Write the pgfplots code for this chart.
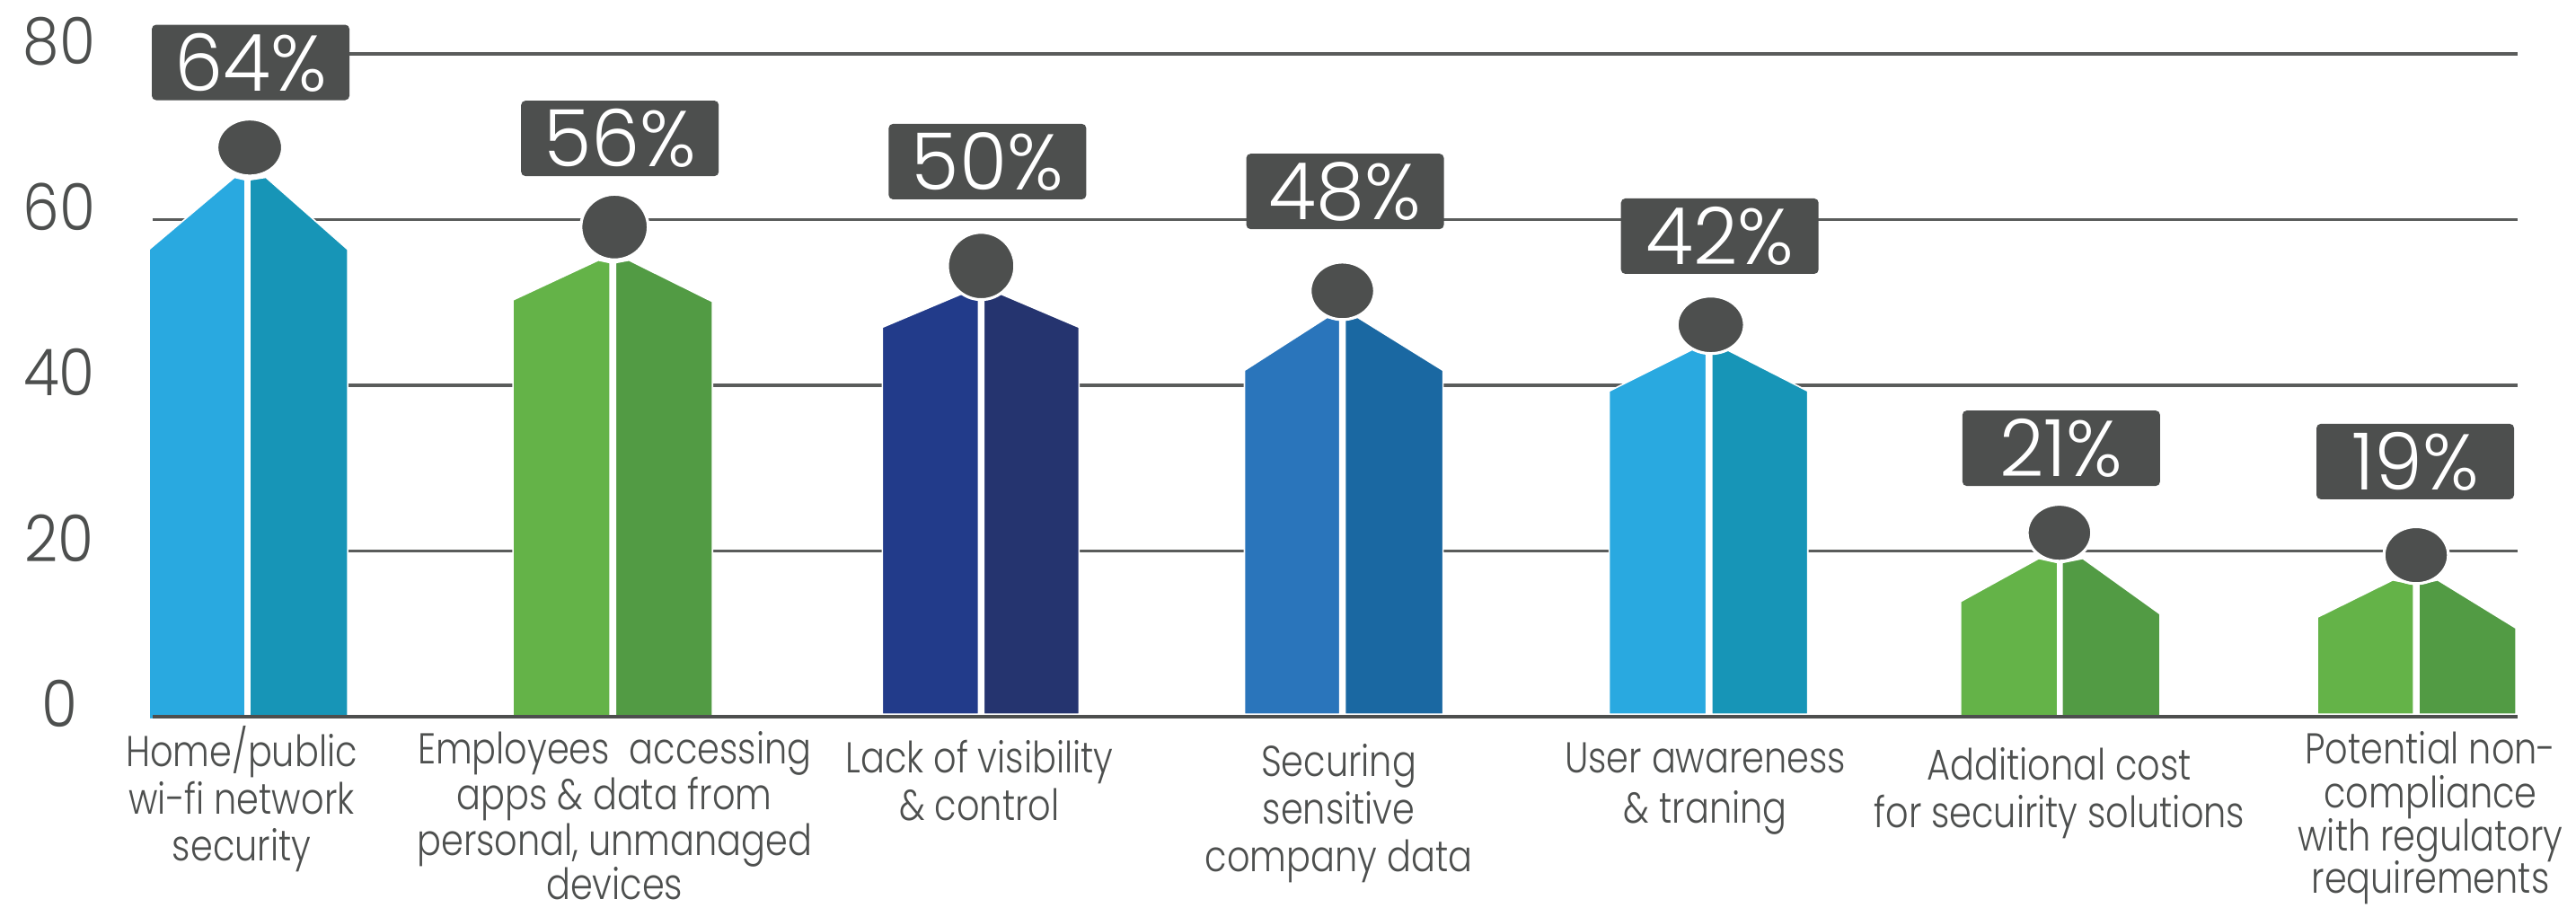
\documentclass[border=0pt]{standalone}
\usepackage{fontspec}
\setmainfont{Poppins Light}[FakeStretch=0.83]
\usepackage{pgfplots}
\pgfplotsset{compat=1.18}
\definecolor{ink}{HTML}{4D4F4E}
\definecolor{gridc}{HTML}{5A5C5B}
\definecolor{skyL}{HTML}{29A9E0}
\definecolor{skyR}{HTML}{1795B7}
\definecolor{greenL}{HTML}{64B348}
\definecolor{greenR}{HTML}{529B44}
\definecolor{navyL}{HTML}{223B8A}
\definecolor{navyR}{HTML}{25346F}
\definecolor{blueL}{HTML}{2A75BB}
\definecolor{blueR}{HTML}{1A68A2}
\newfontfamily\boxfont{Poppins Light}[FakeStretch=0.98]
\newfontfamily\tickfont{Poppins Light}[FakeStretch=0.9]
% #1 fill colour, #2 coordinates
\newcommand{\half}[2]{\addplot[fill=#1,draw=white,line width=0.4pt] coordinates {#2} -- cycle;}
% white column between two halves
\newcommand{\gap}[1]{\addplot[fill=white,draw=white,line width=0.4pt] coordinates {#1} -- cycle;}
% #1 x-scale, #2 y-scale, #3 coordinates (radii relative to 8pt)
\newcommand{\head}[3]{\addplot[only marks,mark=*,mark size=8pt,
  mark options={fill=ink,draw=white,line width=0.8pt,xscale=#1,yscale=#2}] coordinates {#3};}
\newcommand{\boxed}[2]{\addplot[draw=none,mark=none,point meta=explicit symbolic,nodes near coords,
  every node near coord/.style={anchor=center,fill=ink,text=white,rounded corners=1.2pt,inner sep=0pt,
  minimum width=55pt,minimum height=21pt,font=\boxfont\fontsize{22}{24}\selectfont}] coordinates {(#1) [#2]};}
\begin{document}
\begin{tikzpicture}
\path[use as bounding box] (0,0) rectangle (717pt,252.5pt);
\begin{axis}[
  at={(42.5pt,53pt)},anchor=south west,
  scale only axis,width=658pt,height=184.5pt,
  xmin=170,xmax=2802,ymin=0,ymax=80,
  clip=false,
  axis line style={draw=none},
  tick style={draw=none},
  ytick={0,20,40,60,80},
  ymajorgrids,
  grid style={gridc,line width=0.8pt},
  /pgf/number format/assume math mode=true,
  yticklabel style={anchor=center,xshift=-26pt,yshift=3.6pt,text=ink,font=\tickfont\fontsize{18}{20}\selectfont},
  xtick={269,684,1090,1490,1898,2292,2705},
  xticklabels={
    {Home/public\\wi-fi network\\security},
    {\rule{0pt}{10.5pt}Employees\ \ accessing\\[-0.3pt]apps \& data from\\[-0.5pt]personal, unmanaged\\[-0.9pt]devices},
    {\rule{0pt}{13.2pt}Lack of visibility\\\& control},
    {\rule{0pt}{14.2pt}Securing\\sensitive\\company data},
    {\rule{0pt}{13pt}User awareness\\[1pt]\& traning},
    {\rule{0pt}{15.2pt}Additional cost\\for secuirity solutions},
    {\rule{0pt}{10.5pt}Potential non-\\[-0.8pt]compliance\\[-1.2pt]with regulatory\\[-1.4pt]requirements}},
  xticklabel style={align=center,text=ink,anchor=north,yshift=1pt,
    font=\fontsize{12}{13.2}\selectfont},
]
% white gaps
\gap{(270,0)(270,65)(282,65)(282,0)}
\gap{(676,0)(676,55)(688,55)(688,0)}
\gap{(1086,0)(1086,51)(1098,51)(1098,0)}
\gap{(1488,0)(1488,48)(1500,48)(1500,0)}
\gap{(1896,0)(1896,44)(1908,44)(1908,0)}
\gap{(2287,0)(2287,18.6)(2298,18.6)(2298,0)}
\gap{(2683,0)(2683,16)(2695,16)(2695,0)}
% baseline-to-peak outlines of each pictogram, left and right halves
\half{skyL}{(166,-0.3)(166,56.4)(261,65.1)(273,64.8)(273,-0.3)}
\half{skyR}{(278,0)(278,64.8)(296,65.1)(387,56.4)(387,0)}
\half{greenL}{(571,-0.3)(571,50.3)(666,55.1)(679,54.8)(679,-0.3)}
\half{greenR}{(685,0)(685,54.8)(700,55.1)(793,50.1)(793,0)}
\half{navyL}{(982,0.3)(982,47.0)(1074,51.2)(1089,50.9)(1089,0.3)}
\half{navyR}{(1095,0.3)(1095,50.9)(1110,51.2)(1201,47.0)(1201,0.3)}
\half{blueL}{(1385,0.3)(1385,41.8)(1477,48.2)(1491,47.9)(1491,0.3)}
\half{blueR}{(1497,0.3)(1497,47.9)(1511,48.2)(1606,41.8)(1606,0.3)}
\half{skyL}{(1791,0.3)(1791,39.3)(1885,44.4)(1899,44.1)(1899,0.3)}
\half{skyR}{(1905,0.3)(1905,44.1)(1920,44.4)(2012,39.3)(2012,0.3)}
\half{greenL}{(2182,0)(2182,13.9)(2269,19.1)(2290,18.6)(2290,0)}
\half{greenR}{(2295,0)(2295,18.6)(2318,19.1)(2404,12.4)(2404,0)}
\half{greenL}{(2579,0.3)(2579,12.0)(2663,16.5)(2686,16.0)(2686,0.3)}
\half{greenR}{(2692,0.3)(2692,16.0)(2713,16.5)(2800,10.7)(2800,0.3)}
% axis line over the bars
\addplot[ink,line width=0.9pt] coordinates {(170,0)(2802,0)};
% heads
\head{1.14}{0.99}{(278,68.7)}
\head{1.17}{1.14}{(684,59.1)}
\head{1.17}{1.17}{(1092,54.4)}
\head{1.12}{1.00}{(1494,51.4)}
\head{1.17}{1.00}{(1904,47.3)}
\head{1.12}{0.99}{(2292,22.2)}
\head{1.12}{0.99}{(2689,19.5)}
% value labels
\boxed{279,78.97}{64\%}
\boxed{690,69.8}{56\%}
\boxed{1099,67.0}{50\%}
\boxed{1497,63.4}{48\%}
\boxed{1914,58.0}{42\%}
\boxed{2294,32.4}{21\%}
\boxed{2688,30.8}{19\%}
\end{axis}
\end{tikzpicture}
\end{document}
